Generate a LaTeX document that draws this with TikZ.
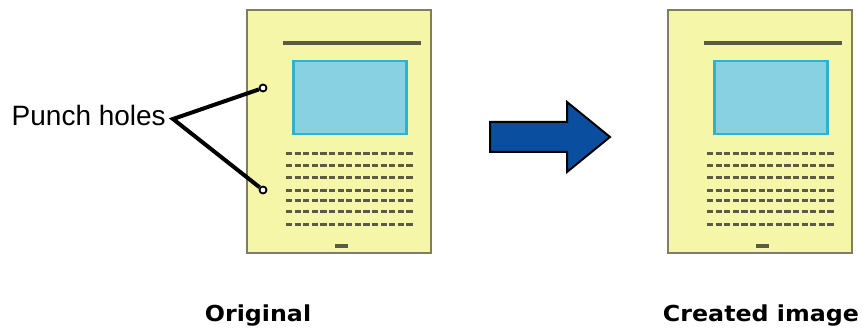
\documentclass[tikz,border=0pt]{standalone}
\usepackage{fontspec}
\setmainfont{Liberation Sans}
\newfontfamily\capfont{DejaVu Sans}[FakeStretch=1.08]
\usetikzlibrary{positioning}

\definecolor{paper}{HTML}{F6F6A9}
\definecolor{paperedge}{HTML}{7E7E62}
\definecolor{ink}{HTML}{5A5A46}
\definecolor{photo}{HTML}{88D1E3}
\definecolor{photoedge}{HTML}{2FB2D2}
\definecolor{arrowblue}{HTML}{0A4EA0}

\begin{document}
\begin{tikzpicture}[
  x=1pt, y=-1pt,
  page/.style={rectangle, draw=paperedge, fill=paper, line width=2.2pt,
               minimum width=184pt, minimum height=243pt, inner sep=0pt},
  pic/.style={rectangle, draw=photoedge, fill=photo, line width=2.2pt,
              minimum width=113pt, minimum height=73pt, inner sep=0pt},
  txtline/.style={draw=ink, line width=3pt, dash pattern=on 6.2pt off 2.4pt},
  hole/.style={circle, draw=black, fill=white, line width=1.8pt,
               minimum size=7pt, inner sep=0pt},
  lead/.style={draw=black, line width=4pt, line join=miter},
  caption/.style={font=\capfont\bfseries\fontsize{22}{26}\selectfont, inner sep=0pt},
  bigarrow/.style={draw=black, fill=arrowblue, line width=2pt, line join=miter}
]
\useasboundingbox (0,0) rectangle (862,331);

% the two pages
\foreach \p/\x in {orig/339, made/760} {
  \node[page] (\p) at (\x,131.5) {};
  \node[pic] (\p-img) at (\x+11,97.5) {};
  \draw[ink, line width=3.6pt] (\x-56,43) -- (\x+82,43);
  \foreach \y in {154,166,178,191,201,212,225}
    \draw[txtline] (\x-53,\y) -- (\x+75,\y);
  \draw[ink, line width=3.4pt] (\x-4,246) -- (\x+9,246);
}

% punch holes and their label
\node[hole] (h1) at (263,88) {};
\node[hole] (h2) at (263,190) {};
\node[font=\fontsize{28}{32}\selectfont, inner sep=0pt, anchor=east] (lbl) at (166,115) {Punch holes};
\coordinate (fork) at (173,119);
\draw[lead] (h1) -- (fork) -- (h2);

% arrow between the pages
\draw[bigarrow] (490,122) -- (567,122) -- (567,102) -- (610,137)
  -- (567,172) -- (567,152) -- (490,152) -- cycle;

% captions
\node[caption] (c1) at (258,316) {Original};
\node[caption] (c2) at (761,316) {Created image};
\end{tikzpicture}
\end{document}
